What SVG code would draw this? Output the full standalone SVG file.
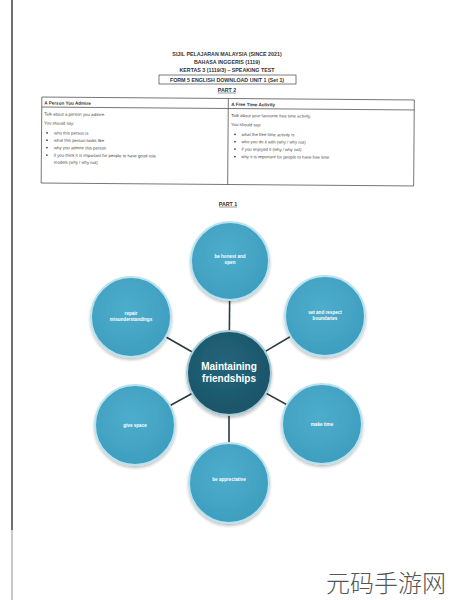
<svg xmlns="http://www.w3.org/2000/svg" width="450" height="600" viewBox="0 0 450 600">
<defs>
<radialGradient id="gOuter" cx="45%" cy="40%" r="60%">
<stop offset="0" stop-color="#4eadcc"/>
<stop offset="1" stop-color="#3f9ebf"/>
</radialGradient>
<radialGradient id="gCenter" cx="45%" cy="40%" r="60%">
<stop offset="0" stop-color="#24657c"/>
<stop offset="1" stop-color="#1b5468"/>
</radialGradient>
<filter id="sh" x="-20%" y="-20%" width="140%" height="140%">
<feGaussianBlur in="SourceAlpha" stdDeviation="1.5"/>
<feOffset dx="0" dy="1.5" result="b"/>
<feComponentTransfer><feFuncA type="linear" slope="0.25"/></feComponentTransfer>
<feMerge><feMergeNode/><feMergeNode in="SourceGraphic"/></feMerge>
</filter>
</defs>
<style>
.hd{font-family:"Liberation Sans",Arial,sans-serif;font-size:5.3px;font-weight:bold;fill:#333;text-anchor:middle}
.th{font-family:"Liberation Sans",Arial,sans-serif;font-size:4.6px;font-weight:bold;fill:#333}
.tt{font-family:"Liberation Sans",Arial,sans-serif;font-size:4.3px;fill:#444}
.bl{fill:#444}
.tb{fill:none;stroke:#555;stroke-width:0.8}
.outer{fill:url(#gOuter);stroke:#b8e2ee;stroke-width:2;filter:url(#sh)}
.center{fill:url(#gCenter);stroke:#a8cbd6;stroke-width:2;filter:url(#sh)}
.nt{font-family:"Liberation Sans",Arial,sans-serif;font-size:4.6px;font-weight:bold;fill:#ffffff;text-anchor:middle}
.ct{font-family:"Liberation Sans",Arial,sans-serif;font-size:10px;font-weight:bold;fill:#ffffff;text-anchor:middle}
.cn{stroke:#2c3a40;stroke-width:1.6}
</style>
<rect width="450" height="600" fill="#ffffff"/>
<line x1="12" y1="0" x2="12" y2="530" stroke="#707070" stroke-width="2"/>
<line x1="12" y1="530" x2="12" y2="600" stroke="#c8c8c8" stroke-width="2"/>

<g id="header">
<text class="hd" x="227" y="56">SIJIL PELAJARAN MALAYSIA (SINCE 2021)</text>
<text class="hd" x="227" y="64">BAHASA INGGERIS (1119)</text>
<text class="hd" x="227" y="72">KERTAS 3 (1119/3) – SPEAKING TEST</text>
<rect x="159" y="75" width="137" height="9" fill="none" stroke="#444" stroke-width="0.7"/>
<text class="hd" x="227" y="81.5">FORM 5 ENGLISH DOWNLOAD UNIT 1 (Set 1)</text>
<text class="hd" x="227" y="92">PART 2</text>
<line x1="218" y1="93" x2="236" y2="93" stroke="#333" stroke-width="0.5"/>
</g>

<g id="table" transform="rotate(0.45 228 140)">
<rect class="tb" x="41.5" y="98.5" width="372.5" height="86"/>
<line class="tb" x1="41.5" y1="108.5" x2="414" y2="108.5"/>
<line class="tb" x1="228" y1="98.5" x2="228" y2="184.5"/>
<text class="th" x="44" y="106">A Person You Admire</text>
<text class="th" x="231" y="106">A Free Time Activity</text>
<text class="tt" x="44" y="117">Talk about a person you admire.</text>
<text class="tt" x="44" y="126">You should say:</text>
<circle class="bl" cx="47" cy="134.3" r="0.9"/>
<text class="tt" x="54" y="135.8">who this person is</text>
<circle class="bl" cx="47" cy="141.6" r="0.9"/>
<text class="tt" x="54" y="143.1">what this person looks like</text>
<circle class="bl" cx="47" cy="149" r="0.9"/>
<text class="tt" x="54" y="150.5">why you admire this person</text>
<circle class="bl" cx="47" cy="156.5" r="0.9"/>
<text class="tt" x="54" y="158">if you think it is important for people to have good role</text>
<text class="tt" x="54" y="165">models (why / why not)</text>
<text class="tt" x="231" y="117">Talk about your favourite free time activity.</text>
<text class="tt" x="231" y="126">You should say:</text>
<circle class="bl" cx="235" cy="134.3" r="0.9"/>
<text class="tt" x="241.5" y="135.8">what the free time activity is</text>
<circle class="bl" cx="235" cy="141.6" r="0.9"/>
<text class="tt" x="241.5" y="143.1">who you do it with (why / why not)</text>
<circle class="bl" cx="235" cy="149" r="0.9"/>
<text class="tt" x="241.5" y="150.5">if you enjoyed it (why / why not)</text>
<circle class="bl" cx="235" cy="156.5" r="0.9"/>
<text class="tt" x="241.5" y="158">why it is important for people to have free time</text>
</g>

<g id="part1">
<text class="hd" x="228" y="206">PART 1</text>
<line x1="219" y1="207" x2="237" y2="207" stroke="#333" stroke-width="0.5"/>
</g>

<g id="connectors">
<line class="cn" x1="229" y1="373" x2="230" y2="261"/>
<line class="cn" x1="229" y1="373" x2="131" y2="317"/>
<line class="cn" x1="229" y1="373" x2="325" y2="316"/>
<line class="cn" x1="229" y1="373" x2="135" y2="425"/>
<line class="cn" x1="229" y1="373" x2="322" y2="424"/>
<line class="cn" x1="229" y1="373" x2="229" y2="483"/>
</g>

<g id="n-honest">
<circle class="outer" cx="230" cy="261" r="39"/>
<text class="nt" x="230" y="258">be honest and</text>
<text class="nt" x="230" y="264">open</text>
</g>
<g id="n-repair">
<circle class="outer" cx="131" cy="317" r="40"/>
<text class="nt" x="131" y="314.5">repair</text>
<text class="nt" x="131" y="320.5">misunderstandings</text>
</g>
<g id="n-boundaries">
<circle class="outer" cx="325" cy="316" r="40"/>
<text class="nt" x="325" y="314">set and respect</text>
<text class="nt" x="325" y="320">boundaries</text>
</g>
<g id="n-space">
<circle class="outer" cx="135" cy="425" r="40"/>
<text class="nt" x="135" y="426.5">give space</text>
</g>
<g id="n-time">
<circle class="outer" cx="322" cy="424" r="40"/>
<text class="nt" x="322" y="426">make time</text>
</g>
<g id="n-appreciative">
<circle class="outer" cx="229" cy="483" r="40"/>
<text class="nt" x="229" y="480.5">be appreciative</text>
</g>
<g id="n-center">
<circle class="center" cx="229" cy="373" r="42"/>
<text class="ct" x="229" y="370">Maintaining</text>
<text class="ct" x="229" y="382">friendships</text>
</g>

<text x="386" y="592" font-family="'Noto Sans CJK SC',sans-serif" font-size="24" font-weight="300" fill="#555" text-anchor="middle">元码手游网</text>
</svg>
